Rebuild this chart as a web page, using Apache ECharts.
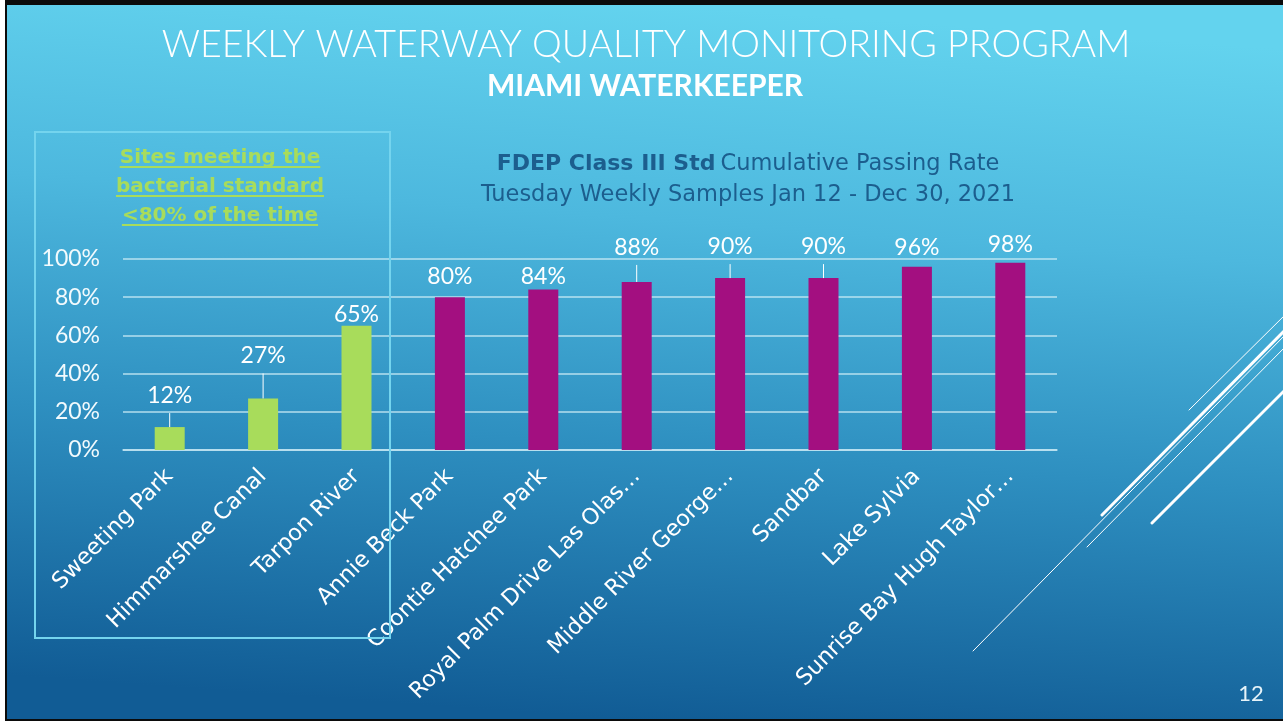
<!DOCTYPE html>
<html><head><meta charset="utf-8">
<script src="https://cdn.jsdelivr.net/npm/echarts@6/dist/echarts.min.js"></script>
<style>html,body{margin:0;padding:0;background:#fff;overflow:hidden}#c{width:1283px;height:721px}</style>
</head><body><div id="c"></div>
<script>
// ---- data ----
const categories = ['Sweeting Park', 'Himmarshee Canal', 'Tarpon River', 'Annie Beck Park', 'Coontie Hatchee Park',
  'Royal Palm Drive Las Olas…', 'Middle River George…', 'Sandbar', 'Lake Sylvia', 'Sunrise Bay Hugh Taylor…'];
const passingRate = [12, 27, 65, 80, 84, 88, 90, 90, 96, 98];
const yTickValues = [0, 20, 40, 60, 80, 100];
const standardThreshold = 80;
const slideTitle = 'WEEKLY WATERWAY QUALITY MONITORING PROGRAM';
const slideSubtitle = 'MIAMI WATERKEEPER';
const chartTitleBold = 'FDEP Class III Std';
const chartTitleRest = 'Cumulative Passing Rate';
const chartSubtitle = 'Tuesday Weekly Samples Jan 12 - Dec 30, 2021';
const boxLines = ['Sites meeting the', 'bacterial standard', '<80% of the time'];
const pageNumber = '12';

// ---- style/layout ----
const NUM_FONT = 'Lato';
const TXT_FONT = '"DejaVu Sans"';
const GREEN = '#A8DC5B';
const MAGENTA = '#A30F80';
const GRID_COLOR = 'rgba(205,235,246,0.85)';
const TITLE_BLUE = '#1C5E8E';
// label gap above each bar (px), and whether a leader line is drawn
const labelGap = [20, 31, 0, 9, 1, 23, 20, 20, 8, 7];
const leader = [true, true, false, false, false, true, true, true, false, false];

const chart = echarts.init(document.getElementById('c'), null, {renderer: 'canvas'});

const ctx = document.createElement('canvas').getContext('2d');
function textWidth(t, font) { ctx.font = font; return ctx.measureText(t).width; }

const seriesData = passingRate.map((v, i) => ({
  value: v,
  itemStyle: {color: v < standardThreshold ? GREEN : MAGENTA},
  label: {distance: labelGap[i]}
}));

// underlined green box text
const boxFont = 'bold 20px ' + TXT_FONT;
const boxCx = 220;
const boxBaselines = [164, 193, 222];
const boxGraphics = [];
boxLines.forEach((t, i) => {
  const w = textWidth(t, boxFont);
  boxGraphics.push({
    type: 'text', z: 10, style: {
      text: t, x: boxCx, y: boxBaselines[i] + 4, align: 'center', verticalAlign: 'bottom',
      font: boxFont, fill: GREEN
    }
  });
  boxGraphics.push({
    type: 'line', z: 10, shape: {x1: boxCx - w / 2, y1: boxBaselines[i] + 3, x2: boxCx + w / 2, y2: boxBaselines[i] + 3},
    style: {stroke: GREEN, lineWidth: 2}
  });
});

const decoLines = [
  [1189, 410, 1290, 310, 1],
  [1102, 515, 1290, 325, 3],
  [973, 651, 1290, 330, 1],
  [1087, 547, 1290, 342, 1],
  [1152, 523, 1290, 385, 3]
];

const option = {
  animation: false,
  title: {
    left: 743, top: 144, textAlign: 'center',
    text: '{b|' + chartTitleBold + '} {n|' + chartTitleRest + '}\n{n|' + chartSubtitle + '}',
    textStyle: {
      fontWeight: 'normal',
      rich: {
        b: {fontFamily: TXT_FONT, fontSize: 22, fontWeight: 'bold', color: TITLE_BLUE, lineHeight: 31},
        n: {fontFamily: TXT_FONT, fontSize: 22.5, fontWeight: 'normal', color: TITLE_BLUE, lineHeight: 31}
      }
    }
  },
  grid: {left: 123, right: 226, top: 259, bottom: 271, containLabel: false},
  xAxis: {
    type: 'category', data: categories,
    axisLine: {show: true, lineStyle: {color: GRID_COLOR, width: 1.5}},
    axisTick: {show: false},
    axisLabel: {interval: 0, rotate: 45, margin: 23, color: '#FFFFFF', fontFamily: TXT_FONT, fontSize: 22.5}
  },
  yAxis: {
    type: 'value', min: 0, max: 100, interval: 20,
    axisLine: {show: false}, axisTick: {show: false},
    axisLabel: {
      margin: 23, color: '#F2FAFD', fontFamily: NUM_FONT, fontSize: 23,
      formatter: v => (yTickValues.indexOf(v) >= 0 ? v + '%' : '')
    },
    splitLine: {lineStyle: {color: GRID_COLOR, width: 1.5}}
  },
  series: [{
    type: 'bar', data: seriesData, barWidth: 30,
    label: {show: true, position: 'top', formatter: '{c}%', color: '#FFFFFF', fontFamily: NUM_FONT, fontSize: 23}
  }, {
    type: 'custom', silent: true, z: 3,
    data: passingRate.map((v, i) => [i, v]),
    renderItem: (params, api) => {
      const i = api.value(0);
      if (!leader[i]) return null;
      const top = api.coord([i, api.value(1)]);
      return {type: 'line', shape: {x1: top[0], y1: top[1], x2: top[0], y2: top[1] - labelGap[i] + 6},
        style: {stroke: '#FFFFFF', lineWidth: 1}};
    }
  }],
  graphic: [
    {type: 'rect', z: -100, silent: true, shape: {x: 0, y: 0, width: 1283, height: 721}, style: {fill: '#FFFFFF'}},
    {type: 'rect', z: -99, silent: true, shape: {x: 5, y: 0, width: 1278, height: 721}, style: {fill: '#0B0B0B'}},
    {type: 'rect', z: -98, silent: true, shape: {x: 7, y: 5, width: 1276, height: 714},
      style: {fill: new echarts.graphic.LinearGradient(0.52, 0, 0.48, 1, [
        {offset: 0, color: '#63D3EE'},
        {offset: 0.3, color: '#4DB8DE'},
        {offset: 0.62, color: '#2E8FC0'},
        {offset: 1, color: '#115C95'}
      ])}},
    {type: 'text', z: 10, style: {text: slideTitle, x: 646, y: 45, align: 'center', verticalAlign: 'middle',
      font: '300 37.6px Lato', fill: '#FFFFFF'}},
    {type: 'text', z: 10, style: {text: slideSubtitle, x: 645, y: 86, align: 'center', verticalAlign: 'middle',
      font: 'bold 30px Lato', fill: '#FFFFFF'}},
    {type: 'rect', z: 5, shape: {x: 35, y: 132, width: 355, height: 506},
      style: {fill: 'none', stroke: '#74D4EE', lineWidth: 2}},
    ...boxGraphics,
    ...decoLines.map(d => ({type: 'line', z: 5, shape: {x1: d[0], y1: d[1], x2: d[2], y2: d[3]},
      style: {stroke: '#FFFFFF', lineWidth: d[4], lineCap: 'round'}})),
    {type: 'text', z: 10, style: {text: pageNumber, x: 1251, y: 694, align: 'center', verticalAlign: 'middle',
      font: '22px Lato', fill: '#E6F3F9'}}
  ]
};
chart.setOption(option);
</script>
</body></html>
